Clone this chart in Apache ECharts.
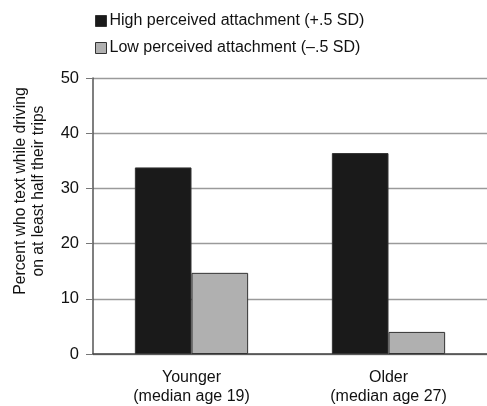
<!DOCTYPE html>
<html><head><meta charset="utf-8">
<script src="https://cdn.jsdelivr.net/npm/echarts@6/dist/echarts.min.js"></script>
<style>html,body{margin:0;padding:0;background:#fff}#c{width:487px;height:406px}</style>
</head><body><div id="c"></div>
<script>
const categories = ['Younger\n(median age 19)', 'Older\n(median age 27)'];
const highValues = [33.8, 36.4];
const lowValues = [14.7, 4.0];
const seriesNames = ['High perceived attachment (+.5 SD)', 'Low perceived attachment (\u2013.5 SD)'];
const yTicks = [0, 10, 20, 30, 40, 50];
const yAxisTitle = 'Percent who text while driving\non at least half their trips';

const font = 'Liberation Sans, Arial, sans-serif';
const chart = echarts.init(document.getElementById('c'));
chart.setOption({
  animation: false,
  legend: {
    orient: 'vertical', left: 90, top: 8,
    itemWidth: 11, itemHeight: 11, itemGap: 11,
    icon: 'rect',
    itemStyle: { borderColor: '#333', borderWidth: 1 },
    textStyle: { fontFamily: font, fontSize: 16, color: '#111', padding: [0,0,0,-2] },
    data: seriesNames
  },
  grid: { left: 93, top: 78, width: 397, height: 277, containLabel: false },
  graphic: [{
    type: 'text', x: 30, y: 191, rotation: Math.PI / 2,
    style: { text: yAxisTitle, fontFamily: font, fontSize: 15.7, fill: '#111',
      align: 'center', verticalAlign: 'middle', lineHeight: 18 }
  }],
  xAxis: {
    type: 'category', data: categories,
    axisLine: { lineStyle: { color: '#444', width: 1.5 } },
    axisTick: { show: false },
    axisLabel: { fontFamily: font, fontSize: 16, color: '#111', margin: 14, lineHeight: 19 }
  },
  yAxis: {
    type: 'value', min: 0, max: 50, interval: 10,
    axisLine: { show: true, lineStyle: { color: '#555', width: 1.5 } },
    axisTick: { show: true, length: 7, lineStyle: { color: '#777' } },
    axisLabel: { fontFamily: font, fontSize: 16.5, color: '#111', margin: 14,
      formatter: v => yTicks.includes(v) ? String(v) : '' },
    splitLine: { show: true, lineStyle: { color: '#9a9a9a', width: 1.3 } }
  },
  series: [
    { name: seriesNames[0], type: 'bar', data: highValues, barGap: '0%', barCategoryGap: '42.5%',
      itemStyle: { color: '#1a1a1a', borderColor: '#333', borderWidth: 1 } },
    { name: seriesNames[1], type: 'bar', data: lowValues,
      itemStyle: { color: '#b0b0b0', borderColor: '#333', borderWidth: 1 } }
  ]
});
</script></body></html>
